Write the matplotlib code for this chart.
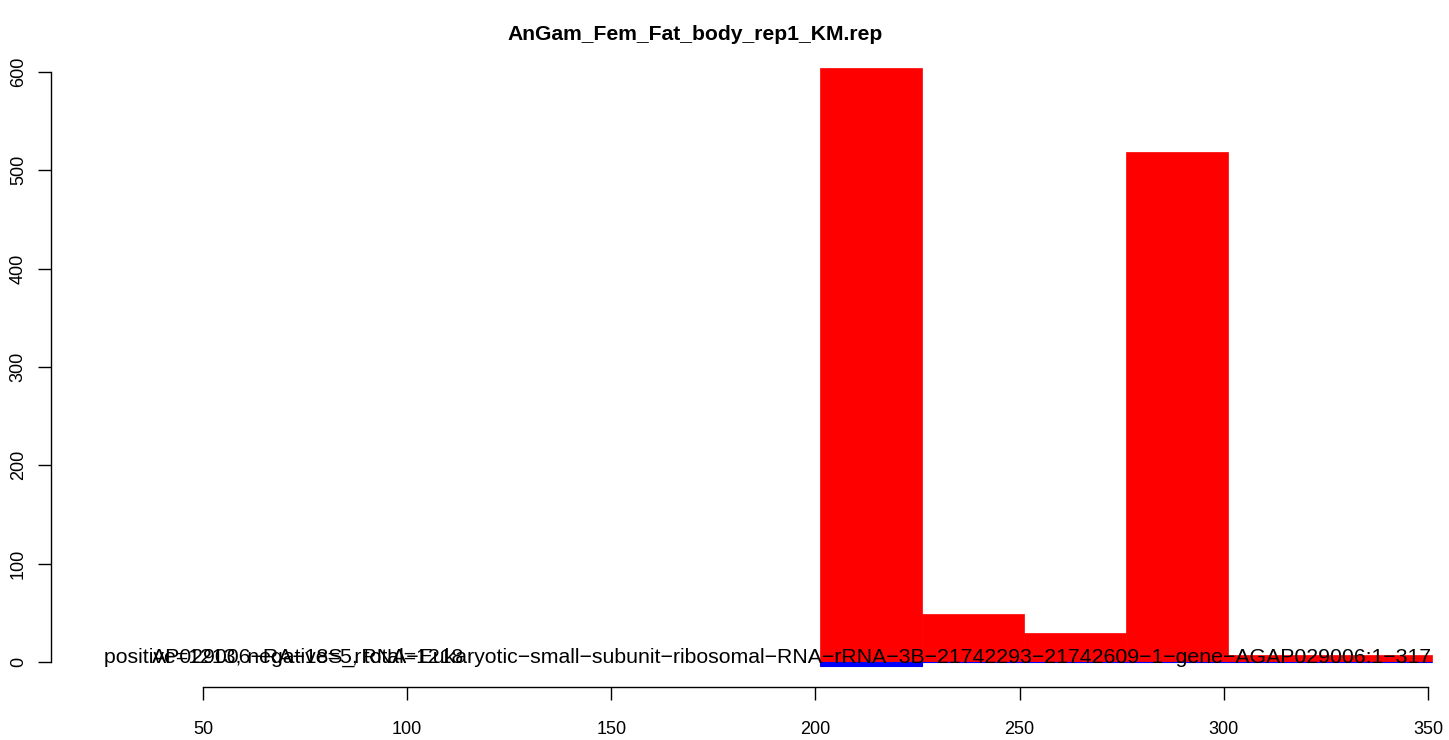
import matplotlib
matplotlib.use("Agg")
import matplotlib.pyplot as plt

plt.rcParams["font.family"] = ["Liberation Sans", "DejaVu Sans"]

TITLE = "AnGam_Fem_Fat_body_rep1_KM.rep"
FEATURE = ("AP029006-RA-18S_rRNA-Eukaryotic-small-subunit-ribosomal-RNA-rRNA-3B-"
           "21742293-21742609-1-gene-AGAP029006:1-317")
COUNTS_LABEL = "positive=1213, negative=5, total=1218"

# read-position bins (left/right edges) and counts per strand
bin_start = [201, 226, 251, 276, 301]
bin_end = [226, 251, 276, 301, 351]
pos_counts = [604, 49, 30, 519, 7]
neg_counts = [-4, 0, 0, 0, 0]

x_ticks = [50, 100, 150, 200, 250, 300, 350]
y_ticks = [0, 100, 200, 300, 400, 500, 600]

W, H = 1449, 740
fig = plt.figure(figsize=(W / 100, H / 100), dpi=100)
ax = fig.add_axes([51 / W, 1 - 687 / H, (1441 - 51) / W, (687 - 45) / H])

widths = [e - s for s, e in zip(bin_start, bin_end)]
ax.bar(bin_start, pos_counts, width=widths, align="edge", color="#ff0000",
       edgecolor="#ff0000", linewidth=0.5)
ax.bar(bin_start, neg_counts, width=widths, align="edge", color="#0000ff",
       edgecolor="#0000ff", linewidth=0.8)

ax.set_xlim(12.8, 353.2)
ax.set_ylim(-25.4, 627.5)

for side in ("top", "right"):
    ax.spines[side].set_visible(False)
ax.spines["left"].set_bounds(y_ticks[0], y_ticks[-1])
ax.spines["bottom"].set_bounds(x_ticks[0], x_ticks[-1])
for side in ("left", "bottom"):
    ax.spines[side].set_linewidth(1.0)

ax.set_xticks(x_ticks)
ax.set_yticks(y_ticks)
ax.tick_params(direction="out", length=9.4, width=1.0, labelsize=13)
ax.tick_params(axis="x", pad=15)
ax.tick_params(axis="y", pad=8)
for lbl in ax.get_yticklabels():
    lbl.set_rotation(90)
    lbl.set_va("center")

# feature name runs to the right end of the last bin, counts sit at the left
dash = "\u2212"
ax.text(bin_end[-1], -1, FEATURE.replace("-", dash), fontsize=15.3,
        ha="right", va="baseline", clip_on=False)
ax.text(25.8, -1, COUNTS_LABEL, fontsize=15.3, ha="left", va="baseline",
        clip_on=False)

fig.text(695 / W, 1 - 34 / H, TITLE, fontsize=15.2, fontweight="bold",
         ha="center", va="center")

fig.savefig("out.png", dpi=100)
